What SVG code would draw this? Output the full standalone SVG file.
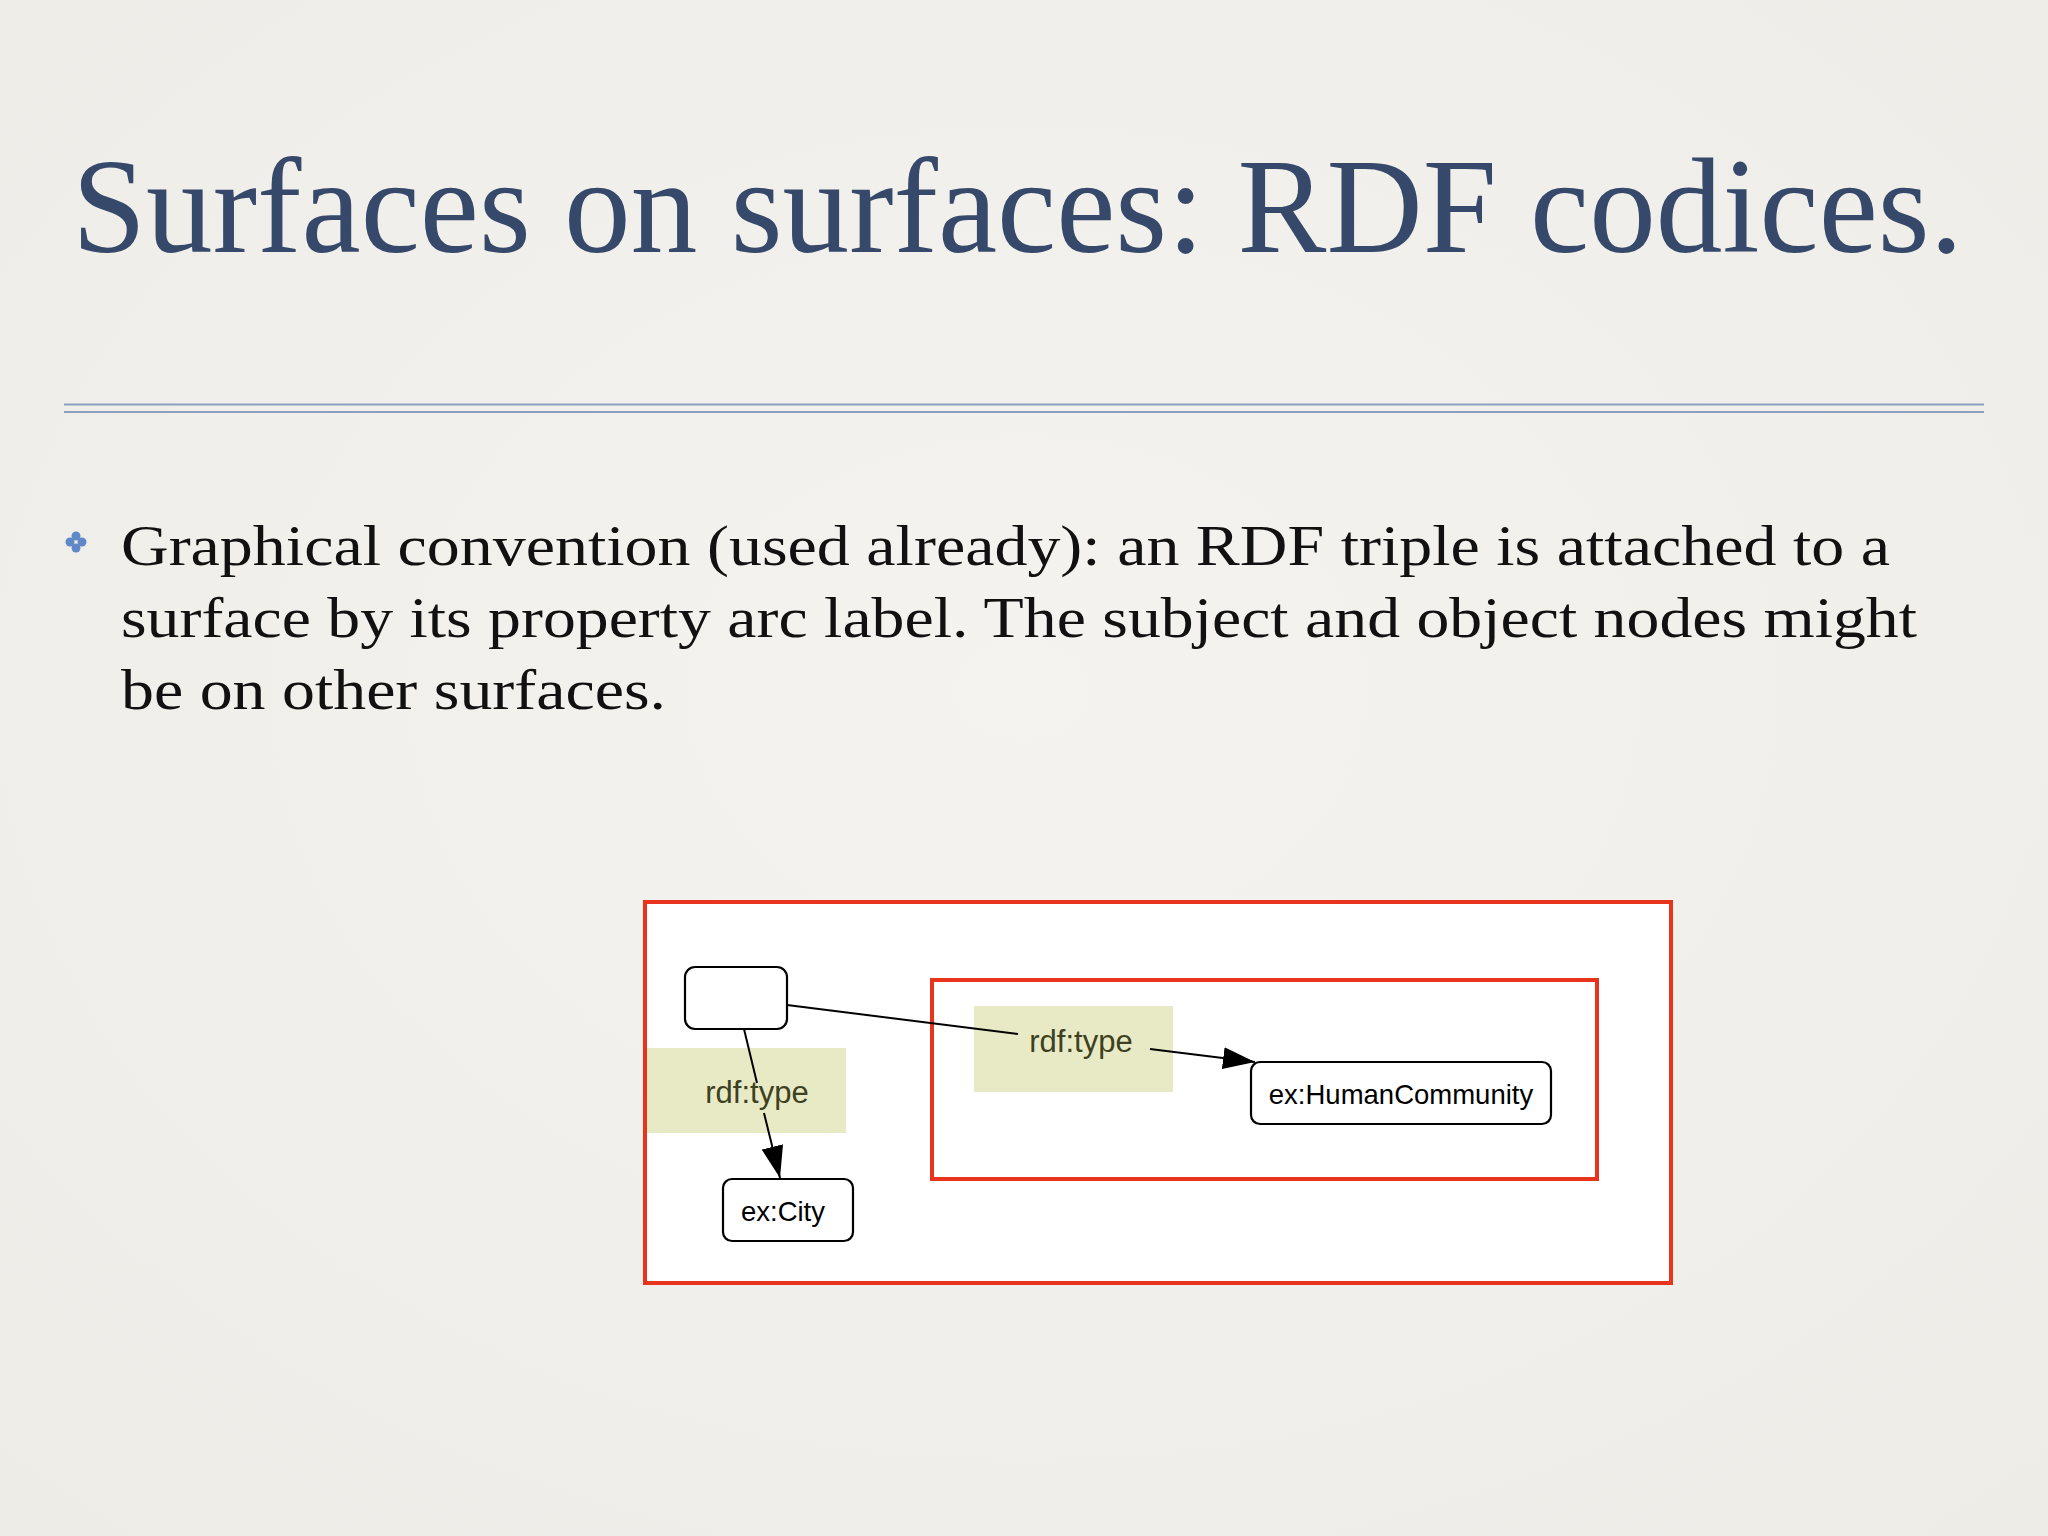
<svg xmlns="http://www.w3.org/2000/svg" width="2048" height="1536" viewBox="0 0 2048 1536">
<defs>
<radialGradient id="bg" cx="50%" cy="45%" r="75%">
<stop offset="0" stop-color="#f5f3ef"/>
<stop offset="1" stop-color="#eeece7"/>
</radialGradient>
<marker id="arrow" viewBox="0 0 32 22" refX="32" refY="11" markerUnits="userSpaceOnUse" markerWidth="32" markerHeight="22" orient="auto">
<path d="M0,0 L32,11 L0,22 Z" fill="#000"/>
</marker>
<style>
.title{font-family:"Liberation Serif","DejaVu Serif",serif;font-size:136px;fill:#36496b}
.body{font-family:"Liberation Serif","DejaVu Serif",serif;font-size:58px;fill:#111}
.surface{fill:#fff;stroke:#e8341c;stroke-width:4}
.inner{fill:none;stroke:#e8341c;stroke-width:4}
.node rect{fill:#fff;stroke:#000;stroke-width:2.2}
.nlabel{font-family:"Liberation Sans",Arial,sans-serif;font-size:27.5px;fill:#000;text-anchor:middle}
.lbox{fill:#e8eac6}
.ltext{font-family:"Liberation Sans",Arial,sans-serif;font-size:31px;fill:#3d4120;text-anchor:middle}
.edge{stroke:#000;stroke-width:2;fill:none}
</style>
</defs>
<rect width="2048" height="1536" fill="url(#bg)"/>
<text class="title" x="72" y="252" textLength="1891" lengthAdjust="spacingAndGlyphs">Surfaces on surfaces: RDF codices.</text>
<g stroke="#8aa0bf" stroke-width="2">
<line x1="64" y1="404.5" x2="1984" y2="404.5"/>
<line x1="64" y1="412" x2="1984" y2="412"/>
</g>
<g id="bullet" fill="#5e88c6">
<circle cx="76" cy="536" r="4.5"/>
<circle cx="76" cy="548" r="4.5"/>
<circle cx="70" cy="542" r="4.5"/>
<circle cx="82" cy="542" r="4.5"/>
</g>
<text class="body" x="121" y="565" textLength="1769" lengthAdjust="spacingAndGlyphs">Graphical convention (used already): an RDF triple is attached to a</text>
<text class="body" x="121" y="637" textLength="1796" lengthAdjust="spacingAndGlyphs">surface by its property arc label. The subject and object nodes might</text>
<text class="body" x="121" y="709" textLength="545" lengthAdjust="spacingAndGlyphs">be on other surfaces.</text>
<g id="outer-surface"><rect class="surface" x="645" y="902" width="1026" height="381"/></g>
<g id="inner-surface"><rect class="inner" x="932" y="980" width="665" height="199"/></g>
<g id="label-left"><rect class="lbox" x="647" y="1048" width="199" height="85"/></g>
<g id="label-right"><rect class="lbox" x="974" y="1006" width="199" height="86"/></g>
<g id="connectors">
<line class="edge" x1="744" y1="1029" x2="757" y2="1083"/>
<line class="edge" x1="764" y1="1113" x2="780" y2="1178" marker-end="url(#arrow)"/>
<line class="edge" x1="787" y1="1005" x2="1018" y2="1034"/>
<line class="edge" x1="1150" y1="1049" x2="1255" y2="1062" marker-end="url(#arrow)"/>
</g>
<text class="ltext" x="757" y="1103">rdf:type</text>
<text class="ltext" x="1081" y="1052">rdf:type</text>
<g id="node-blank" class="node"><rect x="685" y="967" width="102" height="62" rx="10"/></g>
<g id="node-city" class="node"><rect x="723" y="1179" width="130" height="62" rx="9"/><text class="nlabel" x="783" y="1221">ex:City</text></g>
<g id="node-hc" class="node"><rect x="1251" y="1062" width="300" height="62" rx="9"/><text class="nlabel" x="1401" y="1104">ex:HumanCommunity</text></g>
</svg>
